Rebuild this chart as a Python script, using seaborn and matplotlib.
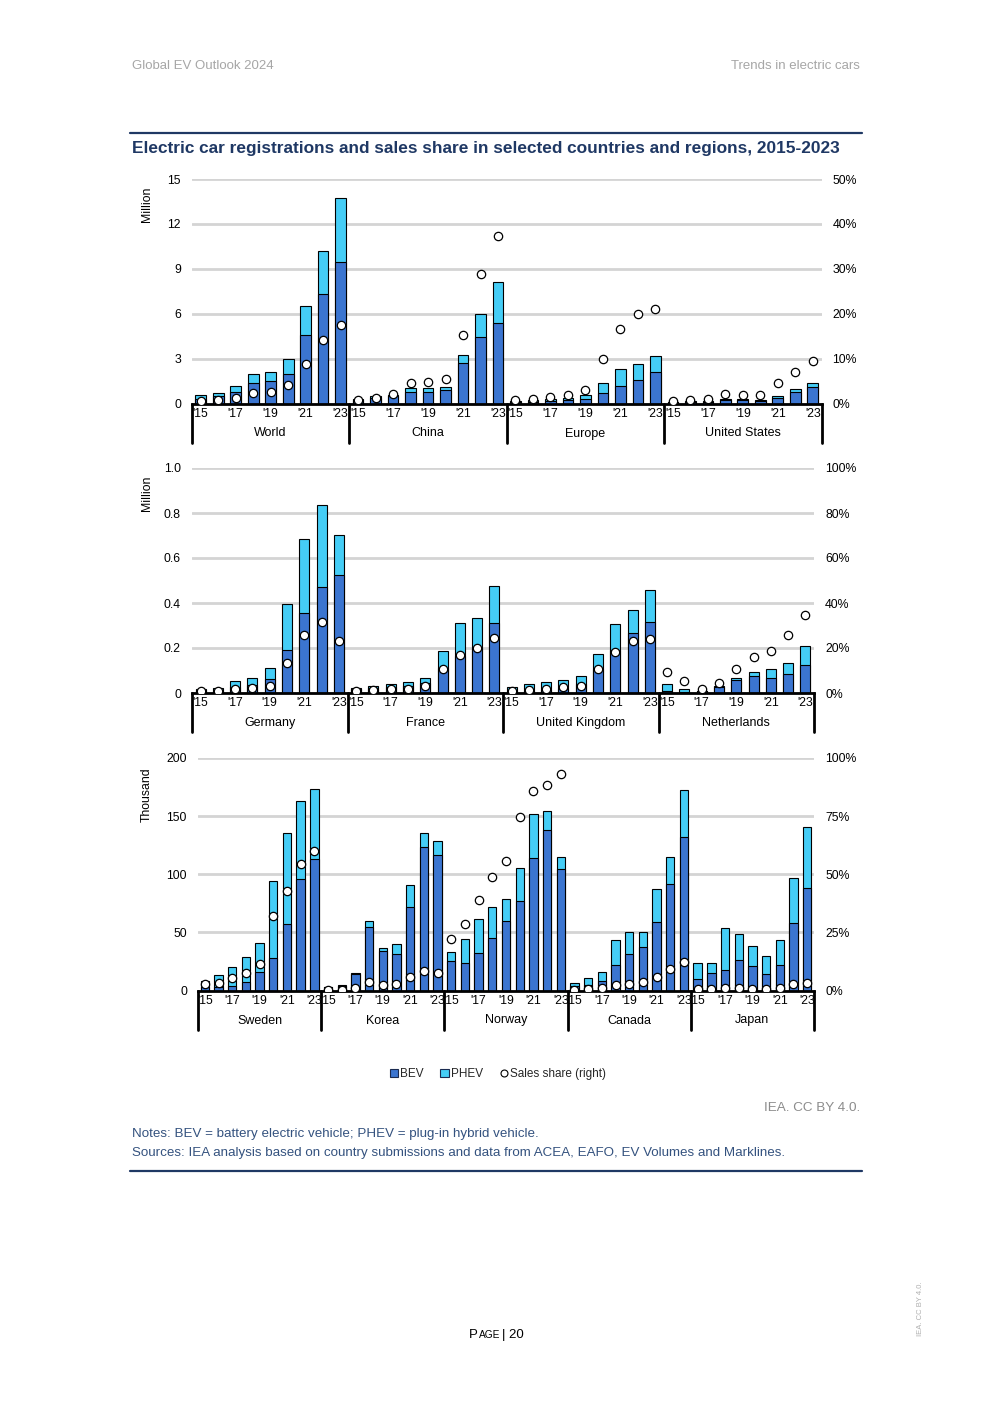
import numpy as np
import pandas as pd
import seaborn as sns
import matplotlib.pyplot as plt
from matplotlib.lines import Line2D
from matplotlib.patches import Patch

# ---- data ----
years = ["'15", "'16", "'17", "'18", "'19", "'20", "'21", "'22", "'23"]

# top panel, million
top_countries = ["World", "China", "Europe", "United States"]
top_bev = {
    "World": [0.32, 0.47, 0.75, 1.34, 1.47, 1.96, 4.6, 7.3, 9.45],
    "China": [0.25, 0.38, 0.5, 0.78, 0.8, 0.92, 2.7, 4.43, 5.38],
    "Europe": [0.08, 0.1, 0.15, 0.21, 0.3, 0.7, 1.2, 1.6, 2.08],
    "United States": [0.07, 0.09, 0.1, 0.22, 0.22, 0.2, 0.4, 0.74, 1.07],
}
top_phev = {
    "World": [0.23, 0.23, 0.4, 0.62, 0.63, 0.99, 1.9, 2.9, 4.25],
    "China": [0.07, 0.12, 0.1, 0.27, 0.25, 0.2, 0.55, 1.52, 2.72],
    "Europe": [0.11, 0.12, 0.15, 0.17, 0.28, 0.65, 1.08, 1.05, 1.07],
    "United States": [0.04, 0.07, 0.1, 0.06, 0.06, 0.04, 0.13, 0.2, 0.27],
}
top_share = {
    "World": [0.5, 0.7, 1.2, 2.4, 2.5, 4.1, 8.7, 14.1, 17.5],
    "China": [0.7, 1.3, 2.2, 4.5, 4.8, 5.5, 15.3, 28.8, 37.4],
    "Europe": [0.8, 0.9, 1.5, 2.0, 3.1, 9.8, 16.6, 20.0, 21.0],
    "United States": [0.5, 0.7, 1.1, 2.1, 1.9, 2.0, 4.5, 7.1, 9.4],
}

# middle panel, million
mid_countries = ["Germany", "France", "United Kingdom", "Netherlands"]
mid_bev = {
    "Germany": [0.012, 0.011, 0.025, 0.036, 0.061, 0.193, 0.354, 0.47, 0.523],
    "France": [0.017, 0.022, 0.026, 0.033, 0.045, 0.11, 0.165, 0.2, 0.31],
    "United Kingdom": [0.01, 0.011, 0.014, 0.016, 0.038, 0.108, 0.19, 0.265, 0.314],
    "Netherlands": [0.007, 0.004, 0.009, 0.027, 0.06, 0.074, 0.068, 0.086, 0.126],
}
mid_phev = {
    "Germany": [0.008, 0.013, 0.027, 0.029, 0.049, 0.202, 0.33, 0.367, 0.18],
    "France": [0.005, 0.007, 0.012, 0.014, 0.02, 0.075, 0.145, 0.135, 0.165],
    "United Kingdom": [0.018, 0.027, 0.033, 0.044, 0.036, 0.067, 0.115, 0.102, 0.142],
    "Netherlands": [0.035, 0.016, 0.002, 0.003, 0.008, 0.018, 0.04, 0.049, 0.081],
}
mid_share = {
    "Germany": [0.7, 0.7, 1.6, 2.1, 3.3, 13.5, 25.9, 31.4, 23.3],
    "France": [1.0, 1.2, 1.6, 2.0, 3.0, 10.5, 17.0, 20.2, 24.5],
    "United Kingdom": [0.9, 1.3, 1.6, 2.7, 3.3, 10.8, 18.4, 22.9, 23.8],
    "Netherlands": [9.4, 5.5, 1.8, 4.3, 10.5, 16.2, 18.7, 25.9, 34.8],
}

# bottom panel, thousand
bot_countries = ["Sweden", "Korea", "Norway", "Canada", "Japan"]
bot_bev = {
    "Sweden": [3, 3, 4.2, 7.2, 15.5, 27.8, 57, 95.8, 113],
    "Korea": [2.6, 4.3, 13.8, 55, 33.9, 31.3, 71.7, 123.4, 116.5],
    "Norway": [25.3, 23.9, 32.5, 45.5, 59.9, 76.8, 113.7, 137.8, 104.2],
    "Canada": [3.5, 5, 8.3, 22.2, 31.4, 37.1, 59.3, 91.2, 131.8],
    "Japan": [10.1, 15.3, 17.8, 26.5, 20.7, 14.4, 21.6, 58.4, 87.8],
}
bot_phev = {
    "Sweden": [5.6, 10.5, 15.8, 21.8, 25, 66.2, 78.4, 67.2, 60.3],
    "Korea": [0.3, 0.6, 1.1, 5, 2.5, 8.7, 19, 12, 11.8],
    "Norway": [8.1, 20.7, 29.4, 26.7, 19.2, 28.2, 38, 16.4, 10.3],
    "Canada": [3.1, 5.9, 7.8, 21.5, 19.2, 13.5, 27.6, 23.3, 40.6],
    "Japan": [13.8, 8.6, 35.7, 22.4, 17.9, 15.0, 22.1, 38.0, 52.6],
}
bot_share = {
    "Sweden": [2.6, 3.4, 5.2, 7.5, 11.2, 32.1, 43.0, 54.4, 60.0],
    "Korea": [0.2, 0.3, 0.9, 3.7, 2.4, 2.6, 6.0, 8.6, 7.7],
    "Norway": [22.2, 28.8, 39.0, 48.9, 55.7, 74.5, 86.0, 88.3, 93.1],
    "Canada": [0.4, 0.6, 0.9, 2.2, 3.0, 3.7, 6.0, 9.2, 12.4],
    "Japan": [0.6, 0.5, 1.0, 1.0, 0.7, 0.6, 1.1, 2.6, 3.3],
}

# ---- style ----
BEV_C = "#3b75d0"
PHEV_C = "#45cdf6"
NAVY = "#1f3864"
GRID_C = "#d4d4d4"

sns.set_theme(style="white")
plt.rcParams["font.family"] = ["Liberation Sans", "DejaVu Sans"]

W, H = 992, 1403
fig = plt.figure(figsize=(W / 100, H / 100), dpi=100)


def fx(x):
    return x / W


def fy(y):
    return 1 - y / H


def draw_panel(left, top, right, bottom, countries, bev, phev, share,
               ymax, ystep, yfmt, smax, sstep, unit, unit_y, bar_w):
    ax = fig.add_axes([fx(left), fy(bottom), fx(right - left), (bottom - top) / H])
    rows = []
    for gi, c in enumerate(countries):
        for yi, yr in enumerate(years):
            rows.append({"slot": gi * len(years) + yi, "country": c, "year": yr,
                         "bev": bev[c][yi], "total": bev[c][yi] + phev[c][yi],
                         "share": share[c][yi]})
    df = pd.DataFrame(rows)
    n = len(df)

    # stacked look: total in PHEV colour, BEV drawn over it from zero
    sns.barplot(data=df, x="slot", y="total", color=PHEV_C, saturation=1,
                edgecolor="black", linewidth=0.8, width=bar_w, ax=ax)
    sns.barplot(data=df, x="slot", y="bev", color=BEV_C, saturation=1,
                edgecolor="black", linewidth=0.8, width=bar_w, ax=ax)

    ax.set_xlim(-0.5, n - 0.5)
    ax.set_ylim(0, ymax)
    yt = np.arange(0, ymax + ystep / 2, ystep)
    ax.set_yticks(yt)
    ax.set_yticklabels([yfmt(v) for v in yt])
    ax.grid(axis="y", color=GRID_C, linewidth=2)
    ax.set_axisbelow(True)
    for s in ["top", "right", "left"]:
        ax.spines[s].set_visible(False)
    ax.spines["bottom"].set_color("black")
    ax.spines["bottom"].set_linewidth(2)
    ax.spines["bottom"].set_zorder(5)

    tick_pos = df.loc[df["year"].isin(["'15", "'17", "'19", "'21", "'23"]), "slot"]
    ax.set_xticks(tick_pos)
    ax.set_xticklabels(df.loc[tick_pos.index, "year"])
    ax.tick_params(axis="both", length=0, labelsize=8.8, colors="black")
    ax.tick_params(axis="x", pad=3)
    ax.tick_params(axis="y", pad=8)
    ax.set_xlabel("")
    ax.set_ylabel("")

    ax2 = ax.twinx()
    sns.scatterplot(data=df, x="slot", y="share", ax=ax2, color="white",
                    edgecolor="black", linewidth=0.9, s=36, zorder=4)
    ax2.set_ylim(0, smax)
    st = np.arange(0, smax + sstep / 2, sstep)
    ax2.set_yticks(st)
    ax2.set_yticklabels([f"{int(v)}%" for v in st])
    ax2.tick_params(axis="y", length=0, labelsize=8.8, pad=8, colors="black")
    ax2.set_xlim(-0.5, n - 0.5)
    ax2.set_ylabel("")
    ax2.set_xlabel("")
    for s in ax2.spines.values():
        s.set_visible(False)

    # country separators and labels below the axis
    hpx = bottom - top
    trans = ax.get_xaxis_transform()
    for gi in range(len(countries) + 1):
        xb = gi * len(years) - 0.5
        ax.plot([xb, xb], [0, -39 / hpx], transform=trans, color="black",
                linewidth=2, clip_on=False, zorder=6)
    for gi, c in enumerate(countries):
        xc = gi * len(years) + (len(years) - 1) / 2
        ax.text(xc, -30 / hpx, c, transform=trans, ha="center", va="center",
                fontsize=9, color="black")

    fig.text(fx(147), fy(unit_y), unit, rotation=90, ha="center", va="center",
             fontsize=8.8, color="black")
    return ax


draw_panel(192, 179, 821.5, 403.5, top_countries, top_bev, top_phev, top_share,
           15, 3, lambda v: f"{int(v)}", 50, 10, "Million", 204, 0.61)
draw_panel(192, 468, 814, 693, mid_countries, mid_bev, mid_phev, mid_share,
           1.0, 0.2, lambda v: "0" if v == 0 else f"{v:.1f}", 100, 20, "Million", 493, 0.58)
draw_panel(198, 758, 814, 990.5, bot_countries, bot_bev, bot_phev, bot_share,
           200, 50, lambda v: f"{int(v)}", 100, 25, "Thousand", 795, 0.61)

# ---- page furniture ----
fig.text(fx(132), fy(66), "Global EV Outlook 2024", ha="left", va="center",
         fontsize=9.5, color="#a6a6a6")
fig.text(fx(860), fy(66), "Trends in electric cars", ha="right", va="center",
         fontsize=9.5, color="#a6a6a6")
fig.add_artist(Line2D([fx(130), fx(862)], [fy(133), fy(133)], color=NAVY,
                      linewidth=1.6, transform=fig.transFigure))
fig.text(fx(132), fy(148),
         "Electric car registrations and sales share in selected countries and regions, 2015-2023",
         ha="left", va="center", fontsize=12.4, fontweight="bold", color=NAVY)

handles = [
    Patch(facecolor=BEV_C, edgecolor="#1a2a50", linewidth=0.8, label="BEV"),
    Patch(facecolor=PHEV_C, edgecolor="#1a2a50", linewidth=0.8, label="PHEV"),
    Line2D([], [], marker="o", linestyle="none", markerfacecolor="white",
           markeredgecolor="black", markersize=5, markeredgewidth=0.8,
           label="Sales share (right)"),
]
fig.legend(handles=handles, loc="center", bbox_to_anchor=(fx(498), fy(1074)),
           ncol=3, frameon=False, fontsize=8.5, handlelength=0.7,
           handleheight=0.7, handletextpad=0.2, columnspacing=1.4)

fig.text(fx(860), fy(1108), "IEA. CC BY 4.0.", ha="right", va="center",
         fontsize=9.7, color="#8c8c8c")
fig.text(fx(132), fy(1134),
         "Notes: BEV = battery electric vehicle; PHEV = plug-in hybrid vehicle.",
         ha="left", va="center", fontsize=9.6, color="#34527f")
fig.text(fx(132), fy(1153),
         "Sources: IEA analysis based on country submissions and data from ACEA, EAFO, EV Volumes and Marklines.",
         ha="left", va="center", fontsize=9.6, color="#34527f")
fig.add_artist(Line2D([fx(130), fx(862)], [fy(1171), fy(1171)], color=NAVY,
                      linewidth=1.6, transform=fig.transFigure))

# small-caps page label
fig.text(fx(478), fy(1338), "P", ha="right", va="baseline", fontsize=9.5, color="black")
fig.text(fx(478.5), fy(1338), "AGE", ha="left", va="baseline", fontsize=7.3, color="black")
fig.text(fx(502), fy(1338), "| 20", ha="left", va="baseline", fontsize=9.5, color="black")
fig.text(fx(920), fy(1309), "IEA. CC BY 4.0.", rotation=90, ha="center", va="center",
         fontsize=5.5, color="#b0b0b0")

fig.savefig("out.png", dpi=100)
